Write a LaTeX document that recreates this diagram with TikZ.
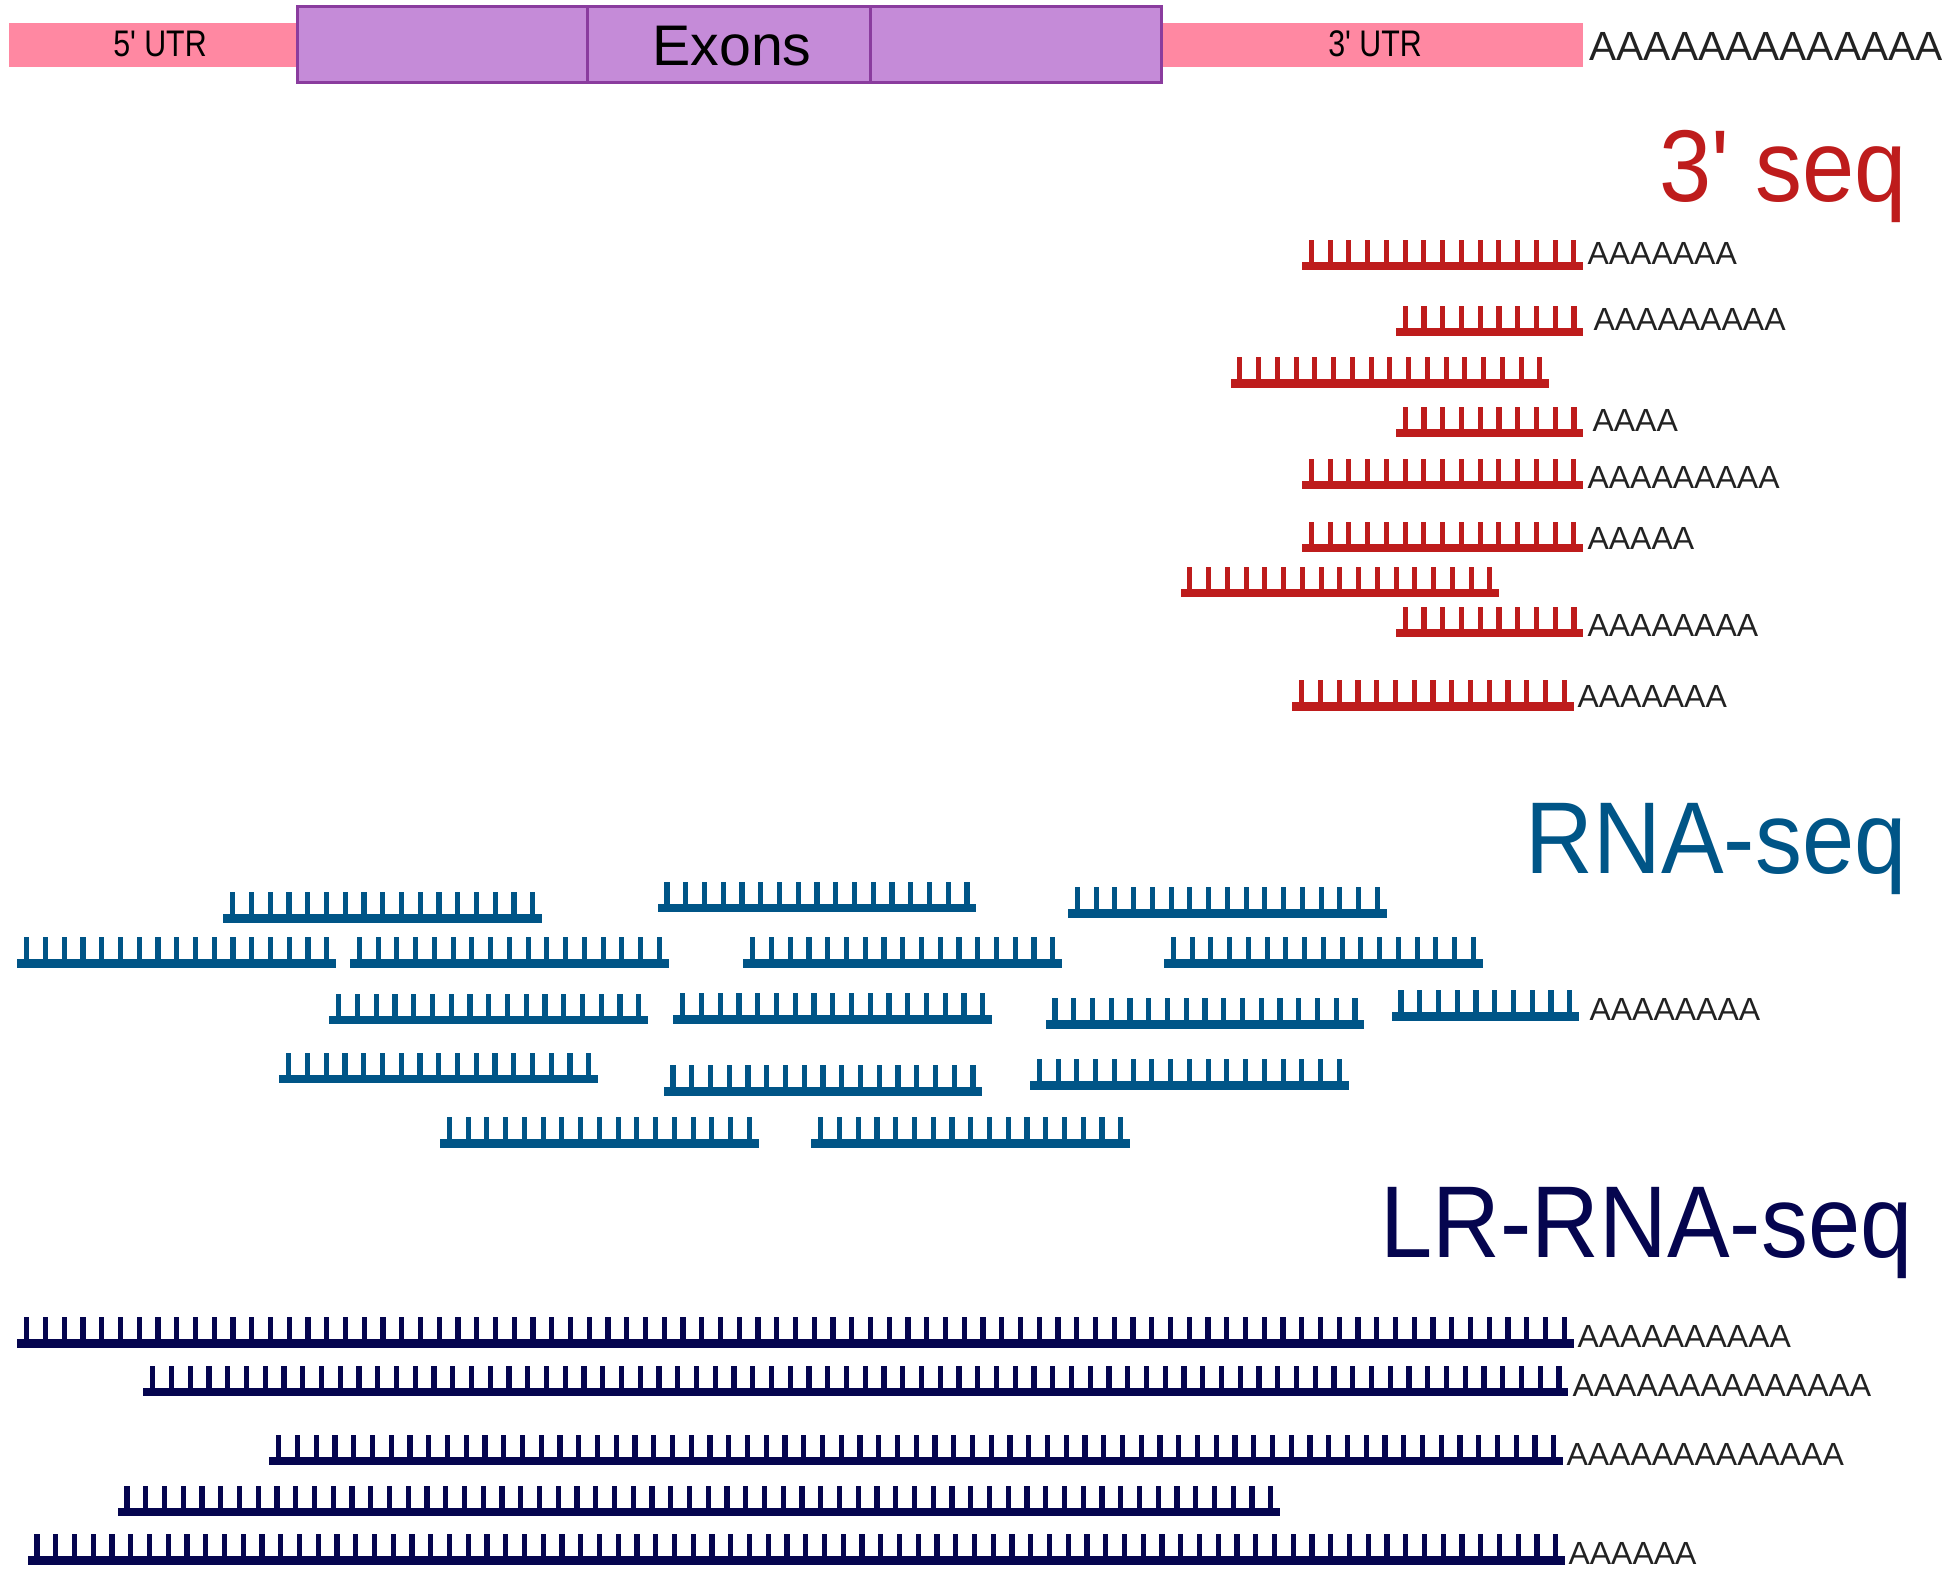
\documentclass[tikz,border=0pt]{standalone}
\usepackage{fontspec}
\setmainfont{Liberation Sans}
\newfontfamily\headfont[FakeStretch=0.92]{Liberation Sans}
\newfontfamily\utrfont[FakeStretch=0.82]{Liberation Sans}
\definecolor{pinkutr}{HTML}{FF88A2}
\definecolor{exonfill}{HTML}{C58BD8}
\definecolor{exonline}{HTML}{8A3C9E}
\definecolor{redread}{HTML}{BE1C1C}
\definecolor{bluread}{HTML}{005587}
\definecolor{darkread}{HTML}{05054F}
\definecolor{txtgray}{HTML}{222222}
\newcommand{\seqread}[4]{%
  \fill[#1] (#2,#4) rectangle ++({#3*18.75},8.5);
  \foreach \i in {1,...,#3} {\fill[#1] ({#2+(\i-0.5)*18.75-2.6},#4) rectangle ++(5.2,-22);}
}
\tikzset{
  atext/.style={font=\fontsize{12.8pt}{14pt}\selectfont, text=txtgray, inner sep=0pt, anchor=base west},
  heading/.style={font=\headfont\fontsize{40.8pt}{44pt}\selectfont, inner sep=0pt, anchor=base east},
  utrtext/.style={font=\utrfont\fontsize{14.8pt}{16pt}\selectfont, text=black, inner sep=0pt, anchor=base},
}
\begin{document}
\begin{tikzpicture}[x=0.4pt,y=-0.4pt]
\fill[white] (0,0) rectangle (1947,1584);
\useasboundingbox (0,0) rectangle (1947,1584);
% gene model
\fill[pinkutr] (9,23) rectangle (297,67);
\fill[pinkutr] (1161,23) rectangle (1583,67);
\draw[exonline, fill=exonfill, line width=1.2pt] (297,6.5) rectangle (1161,82.5);
\draw[exonline, line width=1.2pt] (587,6.5) -- (587,82.5);
\draw[exonline, line width=1.2pt] (870,6.5) -- (870,82.5);
\node[utrtext] (utr5) at (160,57) {5' UTR};
\node[utrtext] (utr3) at (1375,57) {3' UTR};
\node[font=\fontsize{22.9pt}{26pt}\selectfont, inner sep=0pt, anchor=base] (exons) at (732,66) {Exons};
\node[font=\fontsize{16.3pt}{18pt}\selectfont, text=txtgray, inner sep=0pt, anchor=base west] (polyA) at (1589,61) {AAAAAAAAAAAAA};
% headings
\node[heading, text=redread] (h3) at (1907,202) {3' seq};
\node[heading, text=bluread] (hrna) at (1907,873) {RNA-seq};
\node[heading, text=darkread] (hlr) at (1913,1257) {LR-RNA-seq};
% 3' seq reads
\seqread{redread}{1302}{15}{261.7}
\seqread{redread}{1395.8}{10}{327.7}
\seqread{redread}{1230.5}{17}{379.3}
\seqread{redread}{1395.8}{10}{429}
\seqread{redread}{1302}{15}{481}
\seqread{redread}{1302}{15}{544}
\seqread{redread}{1180.5}{17}{588.7}
\seqread{redread}{1395.8}{10}{628.7}
\seqread{redread}{1292.4}{15}{702}
\node[atext] (r1) at (1587,265) {AAAAAAA};
\node[atext] (r2) at (1593,330.5) {AAAAAAAAA};
\node[atext] (r4) at (1592,432) {AAAA};
\node[atext] (r5) at (1587,489) {AAAAAAAAA};
\node[atext] (r6) at (1587,550) {AAAAA};
\node[atext] (r8) at (1587,636.7) {AAAAAAAA};
\node[atext] (r9) at (1577,707.3) {AAAAAAA};
% RNA-seq reads
\seqread{bluread}{223.3}{17}{914.3}
\seqread{bluread}{657.7}{17}{903.7}
\seqread{bluread}{1068}{17}{909.3}
\seqread{bluread}{17.3}{17}{959.3}
\seqread{bluread}{350}{17}{959.3}
\seqread{bluread}{743.3}{17}{959.3}
\seqread{bluread}{1164}{17}{959.3}
\seqread{bluread}{329.3}{17}{1015.7}
\seqread{bluread}{673.3}{17}{1015}
\seqread{bluread}{1045.7}{17}{1020}
\seqread{bluread}{1391.7}{10}{1012}
\seqread{bluread}{279.3}{17}{1074.7}
\seqread{bluread}{663.7}{17}{1087.3}
\seqread{bluread}{1030}{17}{1081}
\seqread{bluread}{440}{17}{1139.3}
\seqread{bluread}{811.3}{17}{1139.3}
\node[atext] (b1) at (1589,1020) {AAAAAAAA};
% LR-RNA-seq reads
\seqread{darkread}{17.3}{83}{1339.3}
\seqread{darkread}{143.3}{76}{1387.7}
\seqread{darkread}{269.3}{69}{1456.7}
\seqread{darkread}{117.7}{62}{1507.7}
\seqread{darkread}{27.7}{82}{1556}
\node[atext] (d1) at (1577,1347.3) {AAAAAAAAAA};
\node[atext] (d2) at (1572,1396) {AAAAAAAAAAAAAA};
\node[atext] (d3) at (1566,1465) {AAAAAAAAAAAAA};
\node[atext] (d5) at (1568,1564) {AAAAAA};
\end{tikzpicture}
\end{document}
